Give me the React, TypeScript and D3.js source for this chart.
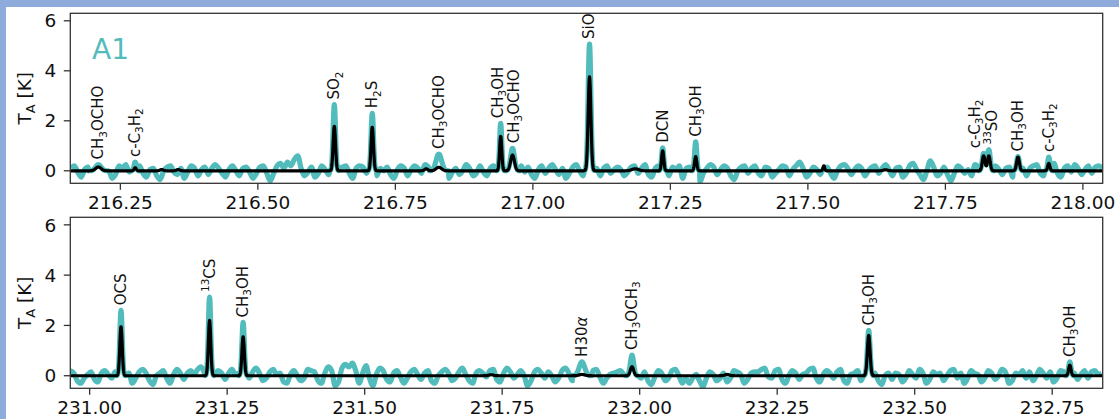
import React from 'react';
import * as d3 from 'd3';

const W = 1119;
const H = 419;

// Baseline (noise) samples of each band, one every 6.25 MHz from the band start [K]
const NOISE_STEP = 0.00625;
const topNoiseStart = 216.16;
const topNoise = [
  0.1, 0.2, -0.05, -0.25, 0.05, 0.15, 0.05, -0.2, -0.1, 0.15, 0.2, 0.0, -0.3, -0.15, 0.2, 0.1, 0.25, -0.05, -0.2, 0.1,
  0.2, -0.1, -0.25, 0.05, 0.1, -0.2, -0.35, 0.0, 0.15, 0.2, -0.05, -0.15, 0.1, -0.3, -0.05, 0.2, 0.1, -0.2, 0.05, 0.15,
  -0.15, 0.1, 0.25, 0.1, -0.1, -0.25, 0.05, 0.2, 0.0, -0.2, 0.1, 0.15, -0.05, -0.3, -0.1, 0.15, 0.2, -0.1, -0.4, -0.1,
  0.2, 0.3, 0.1, 0.35, 0.2, 0.45, 0.6, 0.1, -0.2, -0.05, 0.15, -0.25, -0.1, 0.2, 0.05, -0.15, 0.1, -0.2, 0.05, 0.15,
  0.2, -0.1, -0.3, 0.1, 0.2, 0.15, -0.1, 0.25, 0.05, -0.2, 0.1, 0.0, 0.15, -0.15, -0.3, 0.05, 0.2, 0.1, -0.2, 0.05,
  0.2, 0.1, -0.1, 0.25, 0.15, -0.2, 0.05, 0.15, 0.2, -0.1, -0.3, -0.05, 0.1, -0.15, 0.0, 0.25, 0.1, -0.2, -0.1, 0.2,
  -0.05, -0.2, 0.1, 0.2, 0.05, -0.3, -0.1, 0.15, -0.2, -0.25, 0.1, 0.2, -0.05, 0.15, -0.15, -0.3, 0.05, 0.2, -0.1, 0.1,
  0.25, 0.05, -0.15, 0.1, -0.3, -0.1, 0.15, 0.25, 0.0, -0.2, 0.05, 0.15, 0.3, 0.1, -0.2, 0.1, 0.2, -0.1, 0.05, 0.15,
  0.05, -0.2, -0.05, 0.15, 0.2, -0.1, 0.1, 0.25, -0.15, -0.25, 0.1, 0.2, 0.3, -0.1, -0.2, 0.15, 0.05, 0.2, -0.3, 0.1,
  0.15, -0.05, -0.2, -0.45, -0.1, 0.1, 0.25, 0.15, -0.15, 0.05, 0.2, 0.1, -0.2, -0.35, 0.0, 0.15, 0.2, -0.1, 0.1, 0.2,
  -0.1, -0.2, 0.15, 0.1, -0.25, -0.1, 0.05, 0.2, 0.15, -0.2, 0.05, 0.2, 0.35, 0.1, -0.25, -0.1, 0.15, 0.05, -0.15, 0.1,
  0.15, -0.1, -0.3, 0.0, 0.2, 0.25, 0.1, -0.15, 0.05, 0.2, 0.1, -0.2, 0.0, 0.15, 0.2, -0.1, 0.1, 0.25, 0.05, -0.2,
  0.1, 0.15, -0.25, -0.1, 0.2, 0.3, 0.05, -0.15, -0.35, 0.0, 0.4, 0.15, -0.2, -0.1, 0.15, -0.15, -0.4, -0.1, 0.2, 0.1,
  -0.1, 0.05, -0.2, 0.25, 0.15, 0.1, -0.2, -0.3, 0.1, 0.2, 0.05, -0.15, 0.1, 0.15, -0.25, 0.05, 0.2, 0.1, -0.2, 0.1,
  0.2, 0.25, -0.1, -0.2, 0.05, 0.15, 0.3, -0.1, -0.25, 0.1, 0.2, -0.05, 0.25, 0.1, -0.15, 0.05, 0.2, -0.1, 0.15, 0.2,
  0.1,
];
const botNoiseStart = 230.965;
const botNoise = [
  0.2, 0.1, -0.2, -0.3, -0.1, 0.05, 0.15, -0.15, -0.25, 0.1, 0.2, 0.05, -0.1, 0.15, 0.2, -0.1, 0.0, 0.1, -0.3, -0.1,
  0.15, 0.25, 0.1, -0.2, -0.35, 0.0, 0.1, 0.2, -0.1, -0.3, 0.05, 0.25, 0.1, -0.15, 0.1, 0.2, 0.05, 0.25, 0.35, 0.1,
  -0.1, -0.3, 0.05, 0.2, 0.1, -0.15, 0.1, 0.25, 0.05, 0.1, -0.2, -0.4, -0.1, 0.15, 0.3, 0.1, -0.2, -0.1, 0.15, 0.25,
  0.05, 0.1, -0.25, -0.3, 0.05, 0.2, 0.0, -0.2, -0.1, 0.25, 0.2, 0.15, -0.2, -0.3, 0.1, 0.35, 0.2, -0.4, -0.25, 0.3,
  0.45, 0.35, 0.5, 0.2, -0.3, 0.1, 0.4, -0.1, -0.4, 0.05, 0.3, 0.2, -0.15, -0.25, 0.1, 0.2, -0.05, -0.3, -0.1, 0.15,
  0.25, 0.05, -0.15, 0.1, 0.2, -0.2, -0.3, 0.0, 0.15, 0.25, 0.1, -0.2, -0.1, 0.15, 0.3, 0.05, -0.2, -0.3, 0.1, 0.2,
  0.1, -0.05, 0.2, 0.25, -0.15, -0.25, 0.1, 0.3, 0.15, -0.1, 0.05, 0.2, 0.0, -0.4, -0.2, 0.15, 0.25, 0.1, -0.1, 0.15,
  0.0, -0.25, -0.1, 0.2, 0.3, 0.1, -0.2, 0.05, 0.35, 0.2, -0.1, -0.15, 0.2, 0.25, -0.05, -0.3, -0.1, 0.05, 0.1, 0.15,
  0.2, 0.05, -0.1, 0.0, 0.1, -0.25, -0.1, 0.15, -0.2, -0.35, -0.05, 0.2, 0.1, -0.2, -0.1, 0.2, 0.25, 0.0, -0.3, -0.1,
  -0.3, -0.1, 0.05, -0.2, -0.45, -0.1, 0.15, 0.05, -0.2, -0.1, 0.1, -0.25, -0.1, 0.2, 0.15, 0.05, -0.3, -0.15, 0.1, 0.15,
  0.15, 0.25, 0.3, -0.05, -0.1, 0.2, 0.25, -0.15, -0.3, 0.0, 0.2, 0.1, -0.15, 0.05, 0.1, 0.25, 0.3, -0.1, -0.25, 0.05,
  0.2, 0.1, -0.1, 0.15, 0.25, -0.2, -0.3, 0.05, 0.1, 0.2, -0.2, -0.05, 0.15, 0.3, 0.1, -0.2, -0.35, 0.0, 0.1, -0.15,
  0.1, 0.05, -0.25, -0.1, 0.2, 0.05, -0.1, 0.25, 0.1, -0.3, -0.15, 0.15, 0.05, 0.1, -0.2, 0.0, 0.2, 0.25, -0.1, 0.1,
  -0.3, -0.1, 0.2, 0.1, 0.05, -0.25, -0.1, 0.2, 0.1, -0.15, 0.0, 0.25, 0.15, -0.3, -0.2, 0.1, 0.05, 0.2, -0.1, 0.15,
  -0.2, 0.0, 0.25, 0.1, -0.1, 0.15, -0.25, -0.1, 0.2, 0.15, 0.0, 0.25, 0.1, -0.15, 0.05, 0.2, -0.1, 0.15, 0.2, 0.05,
  0.1,
];

// Identified lines: frequency [GHz], observed peak [K], model peak [K], gaussian sigma [GHz]
// labelFreq moves a label sideways where two labels would collide.
type Line = { label: string; freq: number; obs: number; model: number; sigma: number; labelFreq?: number };
const topLines: Line[] = [
  { label: 'CH_{3}OCHO', freq: 216.21, obs: 0.25, model: 0.15, sigma: 0.005 },
  { label: 'c-C_{3}H_{2}', freq: 216.277, obs: 0.35, model: 0.12, sigma: 0.002 },
  { label: 'SO_{2}', freq: 216.639, obs: 2.65, model: 1.78, sigma: 0.0022 },
  { label: 'H_{2}S', freq: 216.708, obs: 2.3, model: 1.75, sigma: 0.0022 },
  { label: 'CH_{3}OCHO', freq: 216.829, obs: 0.67, model: 0.14, sigma: 0.005 },
  { label: 'CH_{3}OH', freq: 216.9415, obs: 1.9, model: 1.38, sigma: 0.002, labelFreq: 216.936 },
  { label: 'CH_{3}OCHO', freq: 216.963, obs: 0.9, model: 0.63, sigma: 0.0035, labelFreq: 216.966 },
  { label: 'SiO', freq: 217.103, obs: 5.07, model: 3.76, sigma: 0.0025 },
  { label: 'DCN', freq: 217.236, obs: 0.92, model: 0.8, sigma: 0.002 },
  { label: 'CH_{3}OH', freq: 217.296, obs: 1.16, model: 0.57, sigma: 0.002 },
  { label: 'c-C_{3}H_{2}', freq: 217.8195, obs: 0.7, model: 0.6, sigma: 0.0025, labelFreq: 217.804 },
  { label: '^{33}SO', freq: 217.829, obs: 0.85, model: 0.6, sigma: 0.0025, labelFreq: 217.835 },
  { label: 'CH_{3}OH', freq: 217.882, obs: 0.57, model: 0.55, sigma: 0.0025 },
  { label: 'c-C_{3}H_{2}', freq: 217.938, obs: 0.55, model: 0.3, sigma: 0.002 },
];
const botLines: Line[] = [
  { label: 'OCS', freq: 231.057, obs: 2.6, model: 1.95, sigma: 0.0022 },
  { label: '^{13}CS', freq: 231.218, obs: 3.13, model: 2.2, sigma: 0.0022 },
  { label: 'CH_{3}OH', freq: 231.279, obs: 2.12, model: 1.55, sigma: 0.0022 },
  { label: 'H30*α*', freq: 231.895, obs: 0.55, model: 0.05, sigma: 0.005 },
  { label: 'CH_{3}OCH_{3}', freq: 231.986, obs: 0.82, model: 0.36, sigma: 0.003 },
  { label: 'CH_{3}OH', freq: 232.4164, obs: 1.8, model: 1.6, sigma: 0.0025 },
  { label: 'CH_{3}OH', freq: 232.782, obs: 0.55, model: 0.42, sigma: 0.0022 },
];

// Weak unlabelled components of the model
type Minor = { freq: number; model: number; sigma: number };
const topMinor: Minor[] = [
  { freq: 216.325, model: 0.05, sigma: 0.003 },
  { freq: 216.355, model: 0.05, sigma: 0.003 },
  { freq: 216.806, model: 0.08, sigma: 0.003 },
  { freq: 217.186, model: 0.08, sigma: 0.006 },
  { freq: 217.529, model: 0.2, sigma: 0.0015 },
  { freq: 217.641, model: 0.04, sigma: 0.004 },
];
const botMinor: Minor[] = [
  { freq: 231.73, model: 0.04, sigma: 0.004 },
  { freq: 232.159, model: 0.05, sigma: 0.004 },
];

const topTicks = [216.25, 216.5, 216.75, 217.0, 217.25, 217.5, 217.75, 218.0];
const botTicks = [231.0, 231.25, 231.5, 231.75, 232.0, 232.25, 232.5, 232.75];
const yTicks = [0, 2, 4, 6];

const TEAL = '#52bcbc';
const FONT = 'DejaVu Sans, sans-serif';
const LEFT = 70.3;
const RIGHT = 1102.7;
const SPAN = 1.877;

const gauss = (f: number, c: number, a: number, s: number) => a * Math.exp(-0.5 * ((f - c) / s) ** 2);

function MathText({ s, fs }: { s: string; fs: number }) {
  const parts = s.split(/(_\{[^}]*\}|\^\{[^}]*\}|\*[^*]*\*)/).filter(Boolean);
  let cur = 0;
  return (
    <>
      {parts.map((p, i) => {
        let target = 0;
        let size = fs;
        let txt = p;
        let italic = false;
        if (p.startsWith('_{')) {
          target = 0.22 * fs;
          size = 0.7 * fs;
          txt = p.slice(2, -1);
        } else if (p.startsWith('^{')) {
          target = -0.4 * fs;
          size = 0.7 * fs;
          txt = p.slice(2, -1);
        } else if (p.startsWith('*')) {
          italic = true;
          txt = p.slice(1, -1);
        }
        const dy = target - cur;
        cur = target;
        return (
          <tspan key={i} dy={dy} fontSize={size} fontStyle={italic ? 'italic' : undefined}>
            {txt}
          </tspan>
        );
      })}
    </>
  );
}

type PanelProps = {
  id: string;
  x0: number;
  top: number;
  bottom: number;
  ticks: number[];
  noiseStart: number;
  noise: number[];
  lines: Line[];
  minor: Minor[];
  tag?: string;
};

function Panel({ id, x0, top, bottom, ticks, noiseStart, noise, lines, minor, tag }: PanelProps) {
  const x = d3.scaleLinear().domain([x0, x0 + SPAN]).range([LEFT, RIGHT]);
  const y = d3.scaleLinear().domain([-0.5, 6.3]).range([bottom, top]);

  const obsAt = (f: number) => lines.reduce((acc, l) => acc + gauss(f, l.freq, l.obs, l.sigma), 0);
  const modelAt = (f: number) =>
    lines.reduce((acc, l) => acc + gauss(f, l.freq, l.model, l.sigma), 0) +
    minor.reduce((acc, l) => acc + gauss(f, l.freq, l.model, l.sigma), 0);

  // observed spectrum: noise samples away from lines, line profiles on top
  const obsPts: [number, number][] = [];
  noise.forEach((v, i) => {
    const f = noiseStart + i * NOISE_STEP;
    if (lines.every((l) => Math.abs(f - l.freq) > 3.5 * l.sigma)) obsPts.push([f, v]);
  });
  lines.forEach((l) => {
    for (let k = -14; k <= 14; k++) {
      const f = l.freq + (k * l.sigma) / 4;
      obsPts.push([f, obsAt(f)]);
    }
  });
  obsPts.sort((a, b) => a[0] - b[0]);

  const modelPts: [number, number][] = d3
    .range(x0, x0 + SPAN, 0.0004)
    .map((f) => [f, modelAt(f)] as [number, number]);

  const obsPath =
    d3
      .line<[number, number]>()
      .x((d) => x(d[0]))
      .y((d) => y(d[1]))
      .curve(d3.curveMonotoneX)(obsPts) || '';
  const modelPath =
    d3
      .line<[number, number]>()
      .x((d) => x(d[0]))
      .y((d) => y(d[1]))(modelPts) || '';

  const clipId = `clip-${id}`;
  const fsTick = 18.5;
  const fsLab = 15;

  return (
    <g>
      <defs>
        <clipPath id={clipId}>
          <rect x={LEFT} y={top} width={RIGHT - LEFT} height={bottom - top} />
        </clipPath>
      </defs>
      <g clipPath={`url(#${clipId})`}>
        <path d={obsPath} fill="none" stroke={TEAL} strokeWidth={5.2} strokeLinejoin="round" />
        <path d={modelPath} fill="none" stroke="#000" strokeWidth={3.2} strokeLinejoin="round" />
      </g>
      <rect x={LEFT} y={top} width={RIGHT - LEFT} height={bottom - top} fill="none" stroke="#333" strokeWidth={1.3} />
      {ticks.map((t) => (
        <g key={t}>
          <line x1={x(t)} x2={x(t)} y1={bottom} y2={bottom + 6.5} stroke="#333" strokeWidth={1.3} />
          <text x={x(t)} y={bottom + 26} textAnchor="middle" fontSize={fsTick} fontFamily={FONT} fill="#111">
            {d3.format('.2f')(t)}
          </text>
        </g>
      ))}
      {yTicks.map((t) => (
        <g key={t}>
          <line x1={LEFT - 6.5} x2={LEFT} y1={y(t)} y2={y(t)} stroke="#333" strokeWidth={1.3} />
          <text x={LEFT - 14} y={y(t)} dy="0.36em" textAnchor="end" fontSize={fsTick} fontFamily={FONT} fill="#111">
            {t}
          </text>
        </g>
      ))}
      <text
        transform={`translate(31,${(top + bottom) / 2}) rotate(-90)`}
        textAnchor="middle"
        fontSize={fsTick}
        fontFamily={FONT}
        fill="#111"
      >
        <MathText s="T_{A} [K]" fs={fsTick} />
      </text>
      {lines.map((l, i) => (
        <text
          key={i}
          transform={`translate(${x(l.labelFreq ?? l.freq) + 0.33 * fsLab},${y(l.obs) - 5}) rotate(-90)`}
          textAnchor="start"
          fontSize={fsLab}
          fontFamily={FONT}
          fill="#111"
        >
          <MathText s={l.label} fs={fsLab} />
        </text>
      ))}
      {tag && (
        <text x={92} y={59} fontSize={28} fontFamily={FONT} fill={TEAL}>
          {tag}
        </text>
      )}
    </g>
  );
}

export default function App() {
  return (
    <svg
      width={W}
      height={H}
      viewBox={`0 0 ${W} ${H}`}
      style={{ position: 'absolute', left: 0, top: 0, background: '#fff' }}
    >
      <rect x={0} y={0} width={W} height={H} fill="#fff" />
      <rect x={0} y={0} width={W} height={7} fill="#8eabdc" />
      <rect x={0} y={0} width={6} height={H} fill="#8eabdc" />
      <Panel
        id="top"
        x0={216.159}
        top={13.3}
        bottom={183.3}
        ticks={topTicks}
        noiseStart={topNoiseStart}
        noise={topNoise}
        lines={topLines}
        minor={topMinor}
        tag="A1"
      />
      <Panel
        id="bot"
        x0={230.9648}
        top={217.3}
        bottom={388.3}
        ticks={botTicks}
        noiseStart={botNoiseStart}
        noise={botNoise}
        lines={botLines}
        minor={botMinor}
      />
    </svg>
  );
}
